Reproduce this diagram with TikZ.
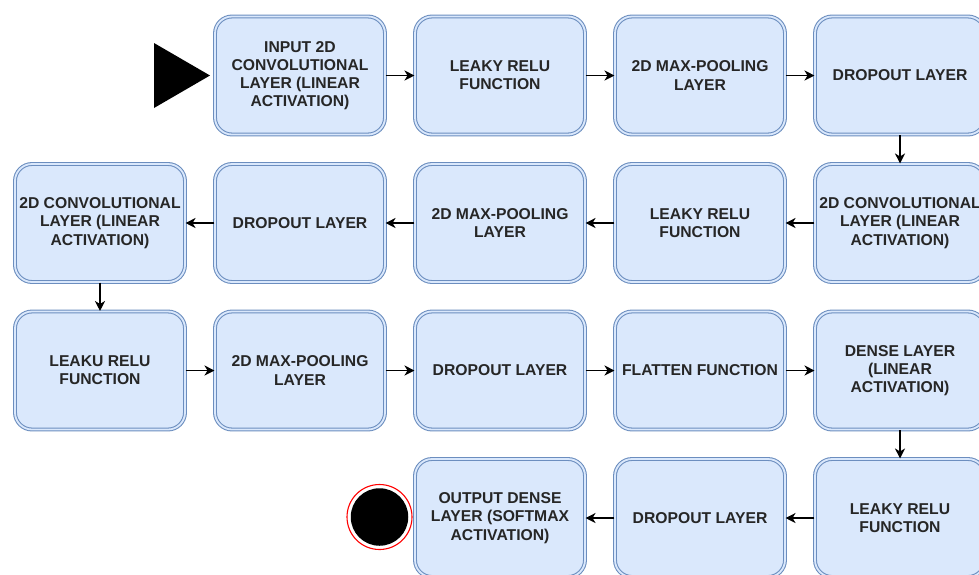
\documentclass[tikz,border=0pt]{standalone}
\usepackage{fontspec}
\setmainfont{Liberation Sans}
\usetikzlibrary{arrows.meta}
\definecolor{boxfill}{HTML}{DAE8FC}
\definecolor{boxline}{HTML}{6C8EBF}
\definecolor{txt}{HTML}{262626}
\tikzset{
  stepbox/.style={rectangle, rounded corners=17pt, draw=boxline, line width=1.05pt,
    double=boxfill, double distance=1.8pt, fill=boxfill,
    minimum width=170pt, minimum height=118pt, inner sep=0pt, align=center,
    text=txt, font=\bfseries\fontsize{15.7}{18.2}\selectfont},
  arr/.style={draw=black, line width=1.3pt, -{Stealth[length=10pt,width=10pt,inset=3pt]}}
}
\begin{document}
\begin{tikzpicture}[x=1pt,y=-1pt]
\clip (0,0) rectangle (979,574);
\fill[white] (0,0) rectangle (979,574);
% row 1
\node[stepbox] (a1) at (300,75.5) {INPUT 2D\\CONVOLUTIONAL\\LAYER (LINEAR\\ACTIVATION)};
\node[stepbox] (a2) at (500,75.5) {LEAKY RELU\\FUNCTION};
\node[stepbox] (a3) at (700,75.5) {2D MAX-POOLING\\LAYER};
\node[stepbox] (a4) at (900,75.5) {DROPOUT LAYER};
% row 2
\node[stepbox] (b4) at (900,223) {2D CONVOLUTIONAL\\LAYER (LINEAR\\ACTIVATION)};
\node[stepbox] (b3) at (700,223) {LEAKY RELU\\FUNCTION};
\node[stepbox] (b2) at (500,223) {2D MAX-POOLING\\LAYER};
\node[stepbox] (b1) at (300,223) {DROPOUT LAYER};
\node[stepbox] (b0) at (100,223) {2D CONVOLUTIONAL\\LAYER (LINEAR\\ACTIVATION)};
% row 3
\node[stepbox] (c0) at (100,370.5) {LEAKU RELU\\FUNCTION};
\node[stepbox] (c1) at (300,370.5) {2D MAX-POOLING\\LAYER};
\node[stepbox] (c2) at (500,370.5) {DROPOUT LAYER};
\node[stepbox] (c3) at (700,370.5) {FLATTEN FUNCTION};
\node[stepbox] (c4) at (900,370.5) {DENSE LAYER\\(LINEAR\\ACTIVATION)};
% row 4
\node[stepbox] (d4) at (900,518) {LEAKY RELU\\FUNCTION};
\node[stepbox] (d3) at (700,518) {DROPOUT LAYER};
\node[stepbox] (d2) at (500,518) {OUTPUT DENSE\\LAYER (SOFTMAX\\ACTIVATION)};
% start and end
\fill[black] (154,43) -- (210,75.5) -- (154,108) -- cycle;
\node[circle, draw=red, line width=1.1pt, minimum size=65pt, inner sep=0pt] (endring) at (379.5,517) {};
\node[circle, fill=black, minimum size=57.5pt, inner sep=0pt] (enddot) at (379.5,517) {};
% connectors
\draw[arr] (a1) -- (a2);
\draw[arr] (a2) -- (a3);
\draw[arr] (a3) -- (a4);
\draw[arr] (a4) -- (b4);
\draw[arr] (b4) -- (b3);
\draw[arr] (b3) -- (b2);
\draw[arr] (b2) -- (b1);
\draw[arr] (b1) -- (b0);
\draw[arr] (b0) -- (c0);
\draw[arr] (c0) -- (c1);
\draw[arr] (c1) -- (c2);
\draw[arr] (c2) -- (c3);
\draw[arr] (c3) -- (c4);
\draw[arr] (c4) -- (d4);
\draw[arr] (d4) -- (d3);
\draw[arr] (d3) -- (d2);
\end{tikzpicture}
\end{document}
